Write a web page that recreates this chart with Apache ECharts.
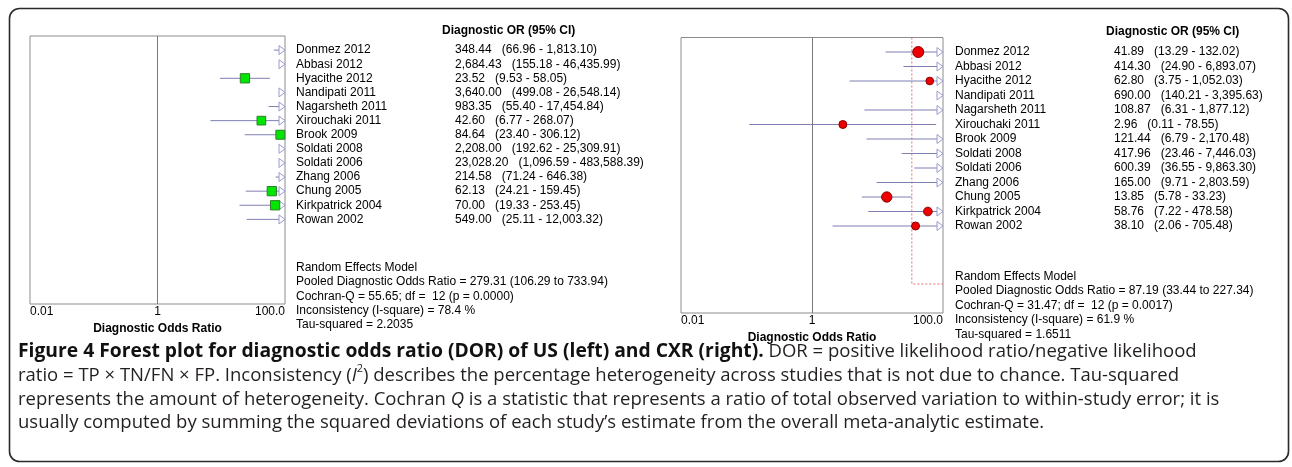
<!DOCTYPE html>
<html><head><meta charset="utf-8">
<script src="https://cdn.jsdelivr.net/npm/echarts@6/dist/echarts.min.js"></script>
<style>html,body{margin:0;padding:0;background:#fff}#c{width:1292px;height:467px}</style>
</head><body><div id="c"></div>
<script>
// ---------- data ----------
const studies = ['Donmez 2012','Abbasi 2012','Hyacithe 2012','Nandipati 2011','Nagarsheth 2011','Xirouchaki 2011','Brook 2009','Soldati 2008','Soldati 2006','Zhang 2006','Chung 2005','Kirkpatrick 2004','Rowan 2002'];
// US (left)
const usOR = [348.44, 2684.43, 23.52, 3640.00, 983.35, 42.60, 84.64, 2208.00, 23028.20, 214.58, 62.13, 70.00, 549.00];
const usLo = [66.96, 155.18, 9.53, 499.08, 55.40, 6.77, 23.40, 192.62, 1096.59, 71.24, 24.21, 19.33, 25.11];
const usHi = [1813.10, 46435.99, 58.05, 26548.14, 17454.84, 268.07, 306.12, 25309.91, 483588.39, 646.38, 159.45, 253.45, 12003.32];
const usWeight = [8.0, 5.5, 9.6, 6.5, 5.5, 8.4, 9.0, 6.0, 5.5, 9.2, 9.6, 9.6, 6.5];
const usPooled = [279.31, 106.29, 733.94];
const usStats = {q: '55.65', df: '12', p: '0.0000', i2: '78.4', tau2: '2.2035'};
// CXR (right)
const cxrOR = [41.89, 414.30, 62.80, 690.00, 108.87, 2.96, 121.44, 417.96, 600.39, 165.00, 13.85, 58.76, 38.10];
const cxrLo = [13.29, 24.90, 3.75, 140.21, 6.31, 0.11, 6.79, 23.46, 36.55, 9.71, 5.78, 7.22, 2.06];
const cxrHi = [132.02, 6893.07, 1052.03, 3395.63, 1877.12, 78.55, 2170.48, 7446.03, 9863.30, 2803.59, 33.23, 478.58, 705.48];
const cxrWeight = [13.4, 6.0, 6.6, 8.0, 5.5, 7.1, 5.5, 6.0, 6.0, 5.5, 11.8, 8.4, 7.1];
const cxrPooled = [87.19, 33.44, 227.34];
const cxrStats = {q: '31.47', df: '12', p: '0.0017', i2: '61.9', tau2: '1.6511'};
// axis ticks
const tickValues = [0.01, 1, 100];
const tickLabels = ['0.01', '1', '100.0'];

// ---------- helpers ----------
const FONT = '"Liberation Sans", Arial, Helvetica, sans-serif';
const CAP = '"Open Sans", "Noto Sans", sans-serif';
function fmt(n){
  const s = n.toFixed(2).split('.');
  return s[0].replace(/\B(?=(\d{3})+(?!\d))/g, ',') + '.' + s[1];
}
function tickFmt(v){
  for (let k = 0; k < tickValues.length; k++) {
    if (Math.abs(Math.log10(v) - Math.log10(tickValues[k])) < 1e-6) return tickLabels[k];
  }
  return '';
}
function statLines(p, s){
  return ['Random Effects Model',
    'Pooled Diagnostic Odds Ratio = ' + fmt(p[0]) + ' (' + fmt(p[1]) + ' to ' + fmt(p[2]) + ')',
    'Cochran-Q = ' + s.q + '; df =  ' + s.df + ' (p = ' + s.p + ')',
    'Inconsistency (I-square) = ' + s.i2 + ' %',
    'Tau-squared = ' + s.tau2];
}

const chart = echarts.init(document.getElementById('c'));

function xAxisCfg(g){
  return {gridIndex:g, type:'log', logBase:10, min:0.01, max:100,
    name:'Diagnostic Odds Ratio', nameLocation:'middle', nameGap:16,
    nameTextStyle:{fontFamily:FONT, fontWeight:'bold', fontSize:12, color:'#000'},
    axisLine:{show:false}, axisTick:{show:false}, splitLine:{show:false},
    axisLabel:{margin:2, fontFamily:FONT, fontSize:12, color:'#000', formatter:tickFmt,
      showMinLabel:true, showMaxLabel:true, alignMinLabel:'left', alignMaxLabel:'right'}};
}
function yAxisCfg(g, OR, lo, hi, margin){
  return {gridIndex:g, type:'value', min:-1, max:18, interval:1, inverse:true, position:'right',
    axisLine:{show:false}, axisTick:{show:false}, splitLine:{show:false},
    axisLabel:{margin:margin, align:'left', showMinLabel:true, showMaxLabel:true,
      formatter:function(v){
        const i = Math.round(v);
        if (Math.abs(v - i) > 1e-6 || i < 0 || i >= studies.length) return '';
        return '{n|' + studies[i] + '}{v|' + fmt(OR[i]) + '   (' + fmt(lo[i]) + ' - ' + fmt(hi[i]) + ')}';
      },
      rich:{n:{width:159, fontFamily:FONT, fontSize:12, color:'#000'},
            v:{fontFamily:FONT, fontSize:12, color:'#000'}}}};
}
function ciSeries(g, lo, hi){
  return {type:'custom', xAxisIndex:g, yAxisIndex:g, clip:false, z:2,
    data: studies.map((s,i)=>[lo[i], hi[i], i]),
    encode:{x:[0,1], y:2},
    renderItem:function(params, api){
      const cs = params.coordSys, L = cs.x, R = cs.x + cs.width;
      const row = api.value(2);
      const y = api.coord([1, row])[1];
      const x1 = api.coord([api.value(0), row])[0];
      const x2 = api.coord([api.value(1), row])[0];
      const aw = 6, ah = 4.5;
      const ra = x2 > R + 0.5, la = x1 < L - 0.5;
      const a = Math.max(x1, la ? L + aw : L), b = Math.min(x2, ra ? R - aw : R);
      const ch = [];
      if (b > a) ch.push({type:'line', shape:{x1:a, y1:y, x2:b, y2:y}, style:{stroke:'#7f7fb3', lineWidth:1}});
      if (ra) ch.push({type:'polygon', shape:{points:[[R-aw,y-ah],[R,y],[R-aw,y+ah]]}, style:{stroke:'#9a9ad0', fill:'none', lineWidth:1}});
      if (la) ch.push({type:'polygon', shape:{points:[[L+aw,y-ah],[L,y],[L+aw,y+ah]]}, style:{stroke:'#9a9ad0', fill:'none', lineWidth:1}});
      return {type:'group', children:ch};
    }};
}
function pooledSeries(g, p){
  return {type:'custom', xAxisIndex:g, yAxisIndex:g, clip:true, z:1,
    data:[[p[1], p[2], p[0]]], encode:{x:[0,1]},
    renderItem:function(params, api){
      const lo = api.value(0), hi = api.value(1);
      const pts = [api.coord([lo,-1]), api.coord([lo,16]), api.coord([hi,16]), api.coord([hi,-1])];
      return {type:'polyline', shape:{points:pts}, style:{stroke:'#e07070', lineWidth:1, lineDash:[2,2], fill:'none'}};
    }};
}
function pointSeries(g, OR, w, symbol, color, border){
  return {type:'scatter', xAxisIndex:g, yAxisIndex:g, clip:true, z:3, symbol:symbol,
    data: OR.map((v,i)=>[v,i]),
    symbolSize:function(val, params){ return Math.sqrt(w[params.dataIndex]) * 3; },
    itemStyle:{color:color, borderColor:border, borderWidth:1, opacity:1},
    markLine:{silent:true, symbol:'none', label:{show:false}, animation:false,
      lineStyle:{color:'#7a7a7a', type:'solid', width:1}, data:[{xAxis:1}]}};
}

function textEl(x, y, t, bold){
  return {type:'text', x:x, y:y, style:{text:t, fontFamily:FONT, fontSize:12, fontWeight:bold?'bold':'normal', fill:'#000', verticalAlign:'middle'}};
}
const graphics = [];
graphics.push({type:'rect', shape:{x:9.5, y:8.5, width:1279, height:453, r:10}, style:{fill:'none', stroke:'#2a2a2a', lineWidth:1.6}, z:-1});
graphics.push(textEl(442, 31, 'Diagnostic OR (95% CI)', true));
graphics.push(textEl(1106, 32, 'Diagnostic OR (95% CI)', true));
statLines(usPooled, usStats).forEach((t,k)=>graphics.push(textEl(296, 268 + k*14.1, t)));
statLines(cxrPooled, cxrStats).forEach((t,k)=>graphics.push(textEl(955, 276.5 + k*14.5, t)));

const CS = 18.5;
const capRich = {
  b:{fontFamily:CAP, fontSize:19.3, fontWeight:'bold', fill:'#111', lineHeight:24},
  r:{fontFamily:CAP, fontSize:CS, fill:'#231f20', lineHeight:24},
  i:{fontFamily:CAP, fontSize:CS, fontStyle:'italic', fill:'#231f20', lineHeight:24},
  s:{fontFamily:CAP, fontSize:11, fill:'#231f20', lineHeight:17, verticalAlign:'top'}
};
const capLines = [
  '{b|Figure 4 Forest plot for diagnostic odds ratio (DOR) of US (left) and CXR (right).}{r| DOR = positive likelihood ratio/negative likelihood}',
  '{r|ratio = TP \u00d7 TN/FN \u00d7 FP. Inconsistency (}{i|I}{s|2}{r|) describes the percentage heterogeneity across studies that is not due to chance. Tau-squared}',
  '{r|represents the amount of heterogeneity. Cochran }{i|Q}{r| is a statistic that represents a ratio of total observed variation to within-study error; it is}',
  '{r|usually computed by summing the squared deviations of each study\u2019s estimate from the overall meta-analytic estimate.}'
];
capLines.forEach((t,k)=>graphics.push({type:'text', x:18, y:352 + k*23.7, style:{text:t, rich:capRich, verticalAlign:'middle'}}));

chart.setOption({
  animation:false,
  backgroundColor:'#fff',
  grid:[
    {left:30, top:36, width:255, height:268, show:true, borderColor:'#8c8c8c', borderWidth:1, backgroundColor:'transparent'},
    {left:681, top:37.5, width:262, height:275.5, show:true, borderColor:'#8c8c8c', borderWidth:1, backgroundColor:'transparent'}
  ],
  xAxis:[xAxisCfg(0), xAxisCfg(1)],
  yAxis:[yAxisCfg(0, usOR, usLo, usHi, 11), yAxisCfg(1, cxrOR, cxrLo, cxrHi, 12)],
  series:[
    pooledSeries(0, usPooled), pooledSeries(1, cxrPooled),
    ciSeries(0, usLo, usHi), ciSeries(1, cxrLo, cxrHi),
    pointSeries(0, usOR, usWeight, 'rect', '#00e600', '#2f7d2f'),
    pointSeries(1, cxrOR, cxrWeight, 'circle', '#ee0000', '#8a0000')
  ],
  graphic:graphics
});
</script></body></html>
